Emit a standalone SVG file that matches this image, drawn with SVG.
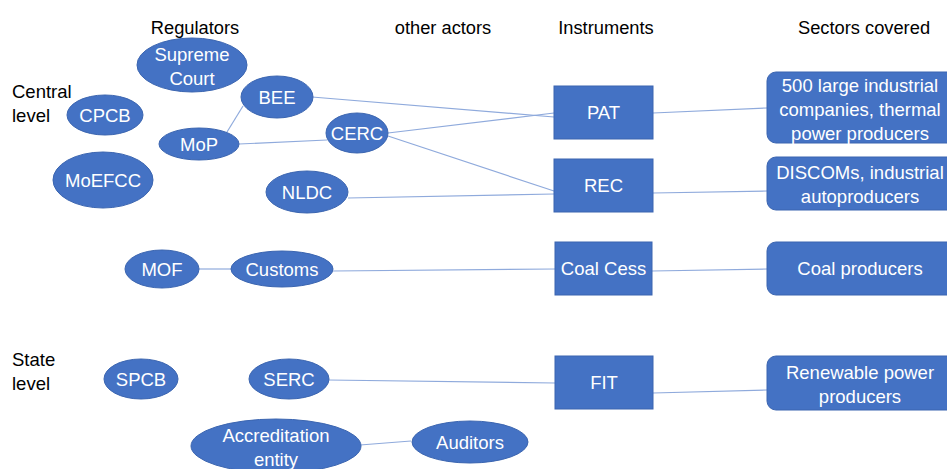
<svg xmlns="http://www.w3.org/2000/svg" width="947" height="469" viewBox="0 0 947 469">
<style>
.n{fill:#4472c4;stroke:#3b65b0;stroke-width:1}
.t{font-family:"Liberation Sans",Arial,sans-serif;font-size:18.5px;fill:#fff;text-anchor:middle;dominant-baseline:central}
.h{font-family:"Liberation Sans",Arial,sans-serif;font-size:18.3px;fill:#000;text-anchor:middle}
.l{font-family:"Liberation Sans",Arial,sans-serif;font-size:18.5px;fill:#000}
.c line{stroke:#8faadc;stroke-width:1.2}
</style>
<rect width="947" height="469" fill="#fff"/>
<g id="labels">
<text class="h" x="195" y="34">Regulators</text>
<text class="h" x="443" y="34">other actors</text>
<text class="h" x="606" y="34">Instruments</text>
<text class="h" x="864" y="34">Sectors covered</text>
<text class="l" x="12" y="98">Central</text>
<text class="l" x="12" y="122">level</text>
<text class="l" x="12" y="366">State</text>
<text class="l" x="12" y="390">level</text>
</g>
<g class="c" id="connectors">
<line x1="227" y1="132" x2="243" y2="106"/>
<line x1="239" y1="144" x2="327" y2="140"/>
<line x1="312" y1="97" x2="554" y2="117"/>
<line x1="388" y1="133" x2="554" y2="113"/>
<line x1="388" y1="136" x2="554" y2="191"/>
<line x1="348" y1="198" x2="554" y2="194"/>
<line x1="653" y1="113" x2="767" y2="108"/>
<line x1="653" y1="193" x2="767" y2="191"/>
<line x1="199" y1="269" x2="231" y2="269"/>
<line x1="333" y1="271" x2="555" y2="269"/>
<line x1="652" y1="271" x2="767" y2="269"/>
<line x1="328" y1="380" x2="555" y2="383"/>
<line x1="653" y1="393" x2="767" y2="390"/>
<line x1="360" y1="445" x2="411" y2="441"/>
</g>
<g id="supreme"><ellipse class="n" cx="192" cy="65" rx="55" ry="27"/><text class="t" x="192" y="54">Supreme</text><text class="t" x="192" y="78">Court</text></g>
<g id="cpcb"><ellipse class="n" cx="105" cy="115" rx="38" ry="20"/><text class="t" x="105" y="115">CPCB</text></g>
<g id="moefcc"><ellipse class="n" cx="103" cy="180" rx="50" ry="28"/><text class="t" x="103" y="180">MoEFCC</text></g>
<g id="bee"><ellipse class="n" cx="277" cy="97" rx="36" ry="21"/><text class="t" x="277" y="97">BEE</text></g>
<g id="mop"><ellipse class="n" cx="199" cy="144" rx="40" ry="16"/><text class="t" x="199" y="144">MoP</text></g>
<g id="cerc"><ellipse class="n" cx="357" cy="133" rx="31" ry="20"/><text class="t" x="357" y="133">CERC</text></g>
<g id="nldc"><ellipse class="n" cx="307" cy="192" rx="41" ry="21"/><text class="t" x="307" y="192">NLDC</text></g>
<g id="mof"><ellipse class="n" cx="162" cy="269" rx="37" ry="19"/><text class="t" x="162" y="269">MOF</text></g>
<g id="customs"><ellipse class="n" cx="282" cy="269" rx="51" ry="18"/><text class="t" x="282" y="269">Customs</text></g>
<g id="spcb"><ellipse class="n" cx="141" cy="379" rx="37" ry="20"/><text class="t" x="141" y="379">SPCB</text></g>
<g id="serc"><ellipse class="n" cx="289" cy="379" rx="40" ry="20"/><text class="t" x="289" y="379">SERC</text></g>
<g id="accr"><ellipse class="n" cx="276" cy="446" rx="85" ry="27"/><text class="t" x="276" y="435">Accreditation</text><text class="t" x="276" y="459">entity</text></g>
<g id="auditors"><ellipse class="n" cx="470" cy="442" rx="58" ry="21"/><text class="t" x="470" y="442">Auditors</text></g>
<g id="pat"><rect class="n" x="554" y="86" width="99" height="53"/><text class="t" x="603.5" y="112.5">PAT</text></g>
<g id="rec"><rect class="n" x="554" y="159" width="99" height="53"/><text class="t" x="603.5" y="185.5">REC</text></g>
<g id="coalcess"><rect class="n" x="555" y="242" width="97" height="53"/><text class="t" x="603.5" y="268.5">Coal Cess</text></g>
<g id="fit"><rect class="n" x="555" y="356" width="98" height="53"/><text class="t" x="604" y="382.5">FIT</text></g>
<g id="sec1"><rect class="n" x="767" y="72" width="190" height="71" rx="9"/><text class="t" x="860" y="85">500 large industrial</text><text class="t" x="860" y="109">companies, thermal</text><text class="t" x="860" y="133">power producers</text></g>
<g id="sec2"><rect class="n" x="767" y="157" width="190" height="53" rx="9"/><text class="t" x="860" y="172">DISCOMs, industrial</text><text class="t" x="860" y="196">autoproducers</text></g>
<g id="sec3"><rect class="n" x="767" y="242" width="190" height="53" rx="9"/><text class="t" x="860" y="268.5">Coal producers</text></g>
<g id="sec4"><rect class="n" x="767" y="356" width="190" height="54" rx="9"/><text class="t" x="860" y="372">Renewable power</text><text class="t" x="860" y="396">producers</text></g>
</svg>
